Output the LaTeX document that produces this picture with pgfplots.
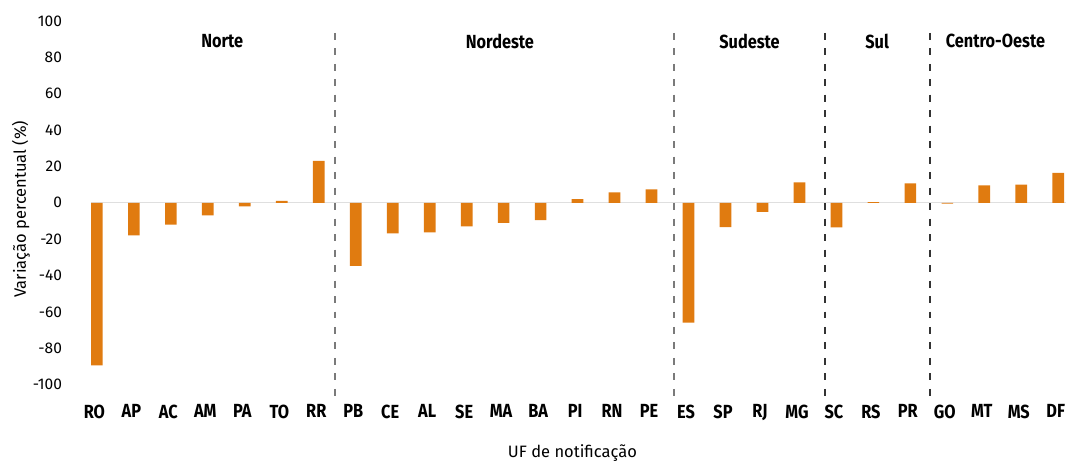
\documentclass[border=0pt]{standalone}
\usepackage{pgfplots}
\pgfplotsset{compat=1.18}
\usepackage{fontspec}
\setmainfont{Fira Sans}
\newfontfamily\condbold[FakeStretch=0.86]{Fira Sans Bold}
\definecolor{barorange}{HTML}{E07B10}
\definecolor{sepgray}{HTML}{7A7A7A}
\definecolor{sepdark}{HTML}{333333}
\begin{document}
\begin{tikzpicture}
\begin{axis}[
  scale only axis,
  width=989pt, height=376.7pt,
  xmin=-0.5, xmax=26.22,
  ymin=-107, ymax=100,
  clip=false,
  axis line style={draw=none},
  major tick length=0pt,
  ytick={-100,-80,...,100},
  xtick=data,
  xticklabels={RO,AP,AC,AM,PA,TO,RR,PB,CE,AL,SE,MA,BA,PI,RN,PE,ES,SP,RJ,MG,SC,RS,PR,GO,MT,MS,DF},
  xticklabel style={font=\fontsize{19}{20}\condbold, yshift=-4pt, xshift=-2.5pt, inner xsep=0pt},
  yticklabel style={font=\fontsize{15.5}{17}\selectfont, xshift=-13pt},
  /pgf/number format/assume math mode=true,
  ylabel={Variação percentual (\%)},
  ylabel style={font=\fontsize{16.5}{18}\selectfont, yshift=-4pt},
  xlabel={UF de notificação},
  xlabel style={font=\fontsize{16.5}{18}\selectfont, yshift=-17pt},
  ybar, bar width=11.7pt,
]
\path (rel axis cs:0,1) ++(-78.5pt,21pt) coordinate (tl);
\path (rel axis cs:1,0) ++(0pt,-65pt) coordinate (br);
\path (tl) -- (br);
\draw[gray!25, line width=1.2pt] (axis cs:-0.15,0) -- (axis cs:26.22,0);
\addplot[fill=barorange, draw=none] coordinates {
(0,-89.5) (1,-18) (2,-12) (3,-7) (4,-2) (5,1) (6,23)
(7,-34.7) (8,-16.8) (9,-16.3) (10,-13) (11,-11) (12,-9.5) (13,2) (14,5.7) (15,7.3)
(16,-66) (17,-13.4) (18,-5) (19,11.2)
(20,-13.5) (21,0.4) (22,10.6)
(23,-0.5) (24,9.5) (25,10) (26,16.5)
};
\pgfplotsinvokeforeach{6.45,15.62}{
  \draw[sepgray, line width=2pt, dash pattern=on 7pt off 8.5pt] (axis cs:#1,93.5) -- (axis cs:#1,-107);
}
\pgfplotsinvokeforeach{19.7,22.54}{
  \draw[sepdark, line width=1.8pt, dash pattern=on 7pt off 8.5pt] (axis cs:#1,93.5) -- (axis cs:#1,-107);
}
\node[font=\fontsize{19}{20}\condbold] at (axis cs:3.39,89) {Norte};
\node[font=\fontsize{19}{20}\condbold] at (axis cs:10.9,89) {Nordeste};
\node[font=\fontsize{19}{20}\condbold] at (axis cs:17.65,89) {Sudeste};
\node[font=\fontsize{19}{20}\condbold] at (axis cs:21.1,89) {Sul};
\node[font=\fontsize{19}{20}\condbold] at (axis cs:24.3,89) {Centro-Oeste};
\end{axis}
\end{tikzpicture}
\end{document}
